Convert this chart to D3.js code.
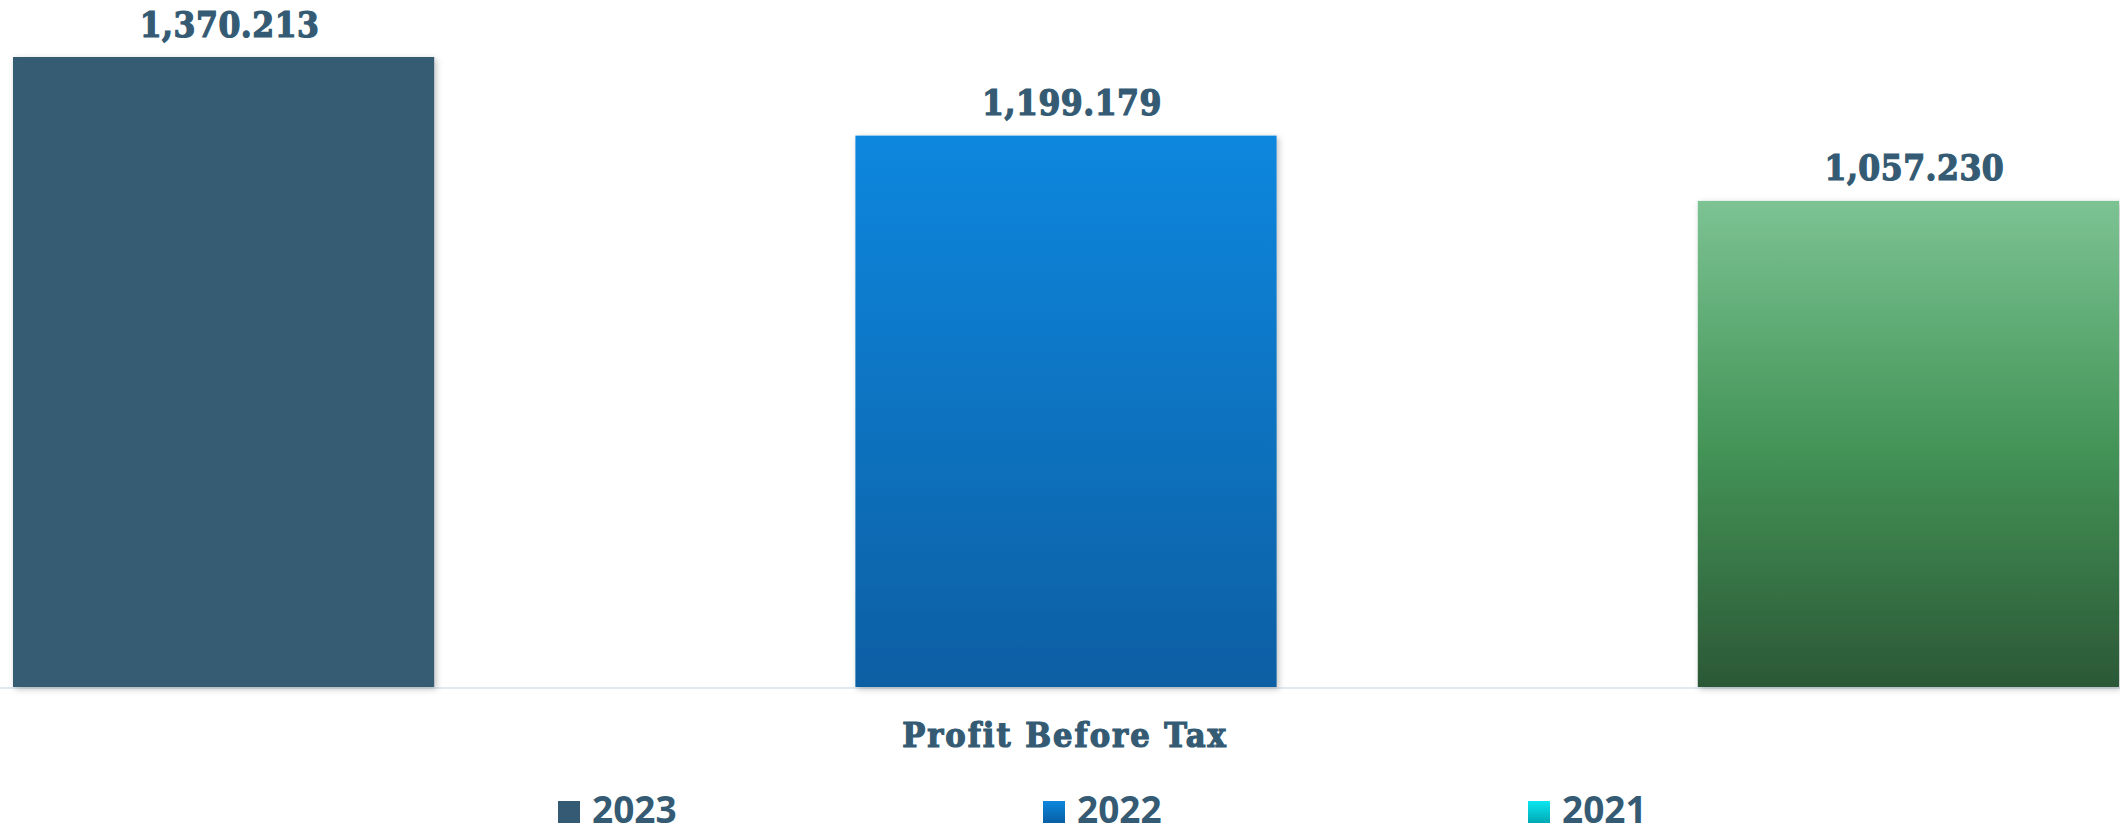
<!DOCTYPE html>
<html>
<head>
<meta charset="utf-8">
<script src="https://cdn.jsdelivr.net/npm/d3@7"></script>
<style>
  body { margin: 0; background: #fff; }
  svg { display: block; }
</style>
</head>
<body>
<div class="chart"></div>
<script>
var years = ['2023', '2022', '2021']
var barYears = ['2023', '2022', '2021']
var values = [1370.213, 1199.179, 1057.230]
var labels = ['1,370.213', '1,199.179', '1,057.230']
var category = 'Profit Before Tax'

let width = 2120
let height = 827
var baseY = 687

var mySvg = d3.select(".chart")
  .append("svg")
  .attr("width", width)
  .attr("height", height)

var defs = mySvg.append("defs")

function grad(id, stops) {
  var g = defs.append("linearGradient")
    .attr("id", id)
    .attr("x1", 0).attr("y1", 0).attr("x2", 0).attr("y2", 1)
  stops.forEach(function(s) {
    g.append("stop").attr("offset", s[0]).attr("stop-color", s[1])
  })
}
grad("g2023", [[0, "#345b73"], [1, "#345b73"]])
grad("g2022", [[0, "#0c87de"], [1, "#075fa3"]])
grad("g2021bar", [[0, "#7cc393"], [0.5, "#449558"], [1, "#2b5836"]])
grad("g2021", [[0, "#0ce6f0"], [1, "#00a9b4"]])

var shadow = defs.append("filter").attr("id", "shadow")
  .attr("x", "-5%").attr("y", "-5%").attr("width", "110%").attr("height", "110%")
shadow.append("feDropShadow")
  .attr("dx", 2).attr("dy", 2).attr("stdDeviation", 3)
  .attr("flood-color", "#000").attr("flood-opacity", 0.25)

var x = d3.scaleBand()
  .domain(barYears)
  .range([13, 2119])
  .paddingInner(0.5)
  .paddingOuter(0)

var y = d3.scaleLinear()
  .domain([0, 1500])
  .range([baseY, baseY - 1500 * 630 / 1370.213])

// baseline
mySvg.append("line")
  .attr("x1", 0).attr("x2", width)
  .attr("y1", baseY + 1).attr("y2", baseY + 1)
  .attr("stroke", "#dfe9f1").attr("stroke-width", 2)

var fills = { '2023': 'url(#g2023)', '2022': 'url(#g2022)', '2021': 'url(#g2021bar)' }

mySvg.selectAll("rect.bar")
  .data(values)
  .enter().append("rect")
  .attr("class", "bar")
  .attr("x", function(d, i) { return x(barYears[i]) })
  .attr("y", function(d) { return y(d) })
  .attr("width", x.bandwidth())
  .attr("height", function(d) { return y(0) - y(d) })
  .attr("fill", function(d, i) { return fills[barYears[i]] })
  .attr("filter", "url(#shadow)")

mySvg.selectAll("text.val")
  .data(values)
  .enter().append("text")
  .attr("class", "val")
  .attr("x", function(d, i) { return x(barYears[i]) + x.bandwidth() / 2 + 6 })
  .attr("y", function(d) { return y(d) - 20.5 })
  .attr("text-anchor", "middle")
  .attr("font-family", "'DejaVu Serif Condensed', 'DejaVu Serif', serif")
  .attr("font-weight", "bold")
  .attr("font-size", 35)
  .attr("fill", "#345b73")
  .attr("stroke", "#345b73")
  .attr("stroke-width", 1.2)
  .attr("letter-spacing", 0.5)
  .text(function(d, i) { return labels[i] })

mySvg.append("text")
  .attr("x", 1065)
  .attr("y", 747)
  .attr("text-anchor", "middle")
  .attr("font-family", "'DejaVu Serif Condensed', 'DejaVu Serif', serif")
  .attr("font-weight", "bold")
  .attr("font-size", 34)
  .attr("fill", "#345b73")
  .attr("stroke", "#345b73")
  .attr("stroke-width", 1.2)
  .attr("letter-spacing", 2)
  .text(category)

// legend
var legendX = [558, 1043, 1528]
var legendFill = { '2023': 'url(#g2023)', '2022': 'url(#g2022)', '2021': 'url(#g2021)' }
var lg = mySvg.selectAll("g.legend")
  .data(years)
  .enter().append("g")
  .attr("class", "legend")
  .attr("transform", function(d, i) { return "translate(" + legendX[i] + ",801)" })

lg.append("rect")
  .attr("width", 22).attr("height", 22)
  .attr("fill", function(d) { return legendFill[d] })

lg.append("text")
  .attr("x", 34)
  .attr("y", 22)
  .attr("font-family", "'Open Sans', sans-serif")
  .attr("font-weight", "bold")
  .attr("font-size", 37)
  .attr("fill", "#345b73")
  .text(function(d) { return d })
</script>
</body>
</html>
